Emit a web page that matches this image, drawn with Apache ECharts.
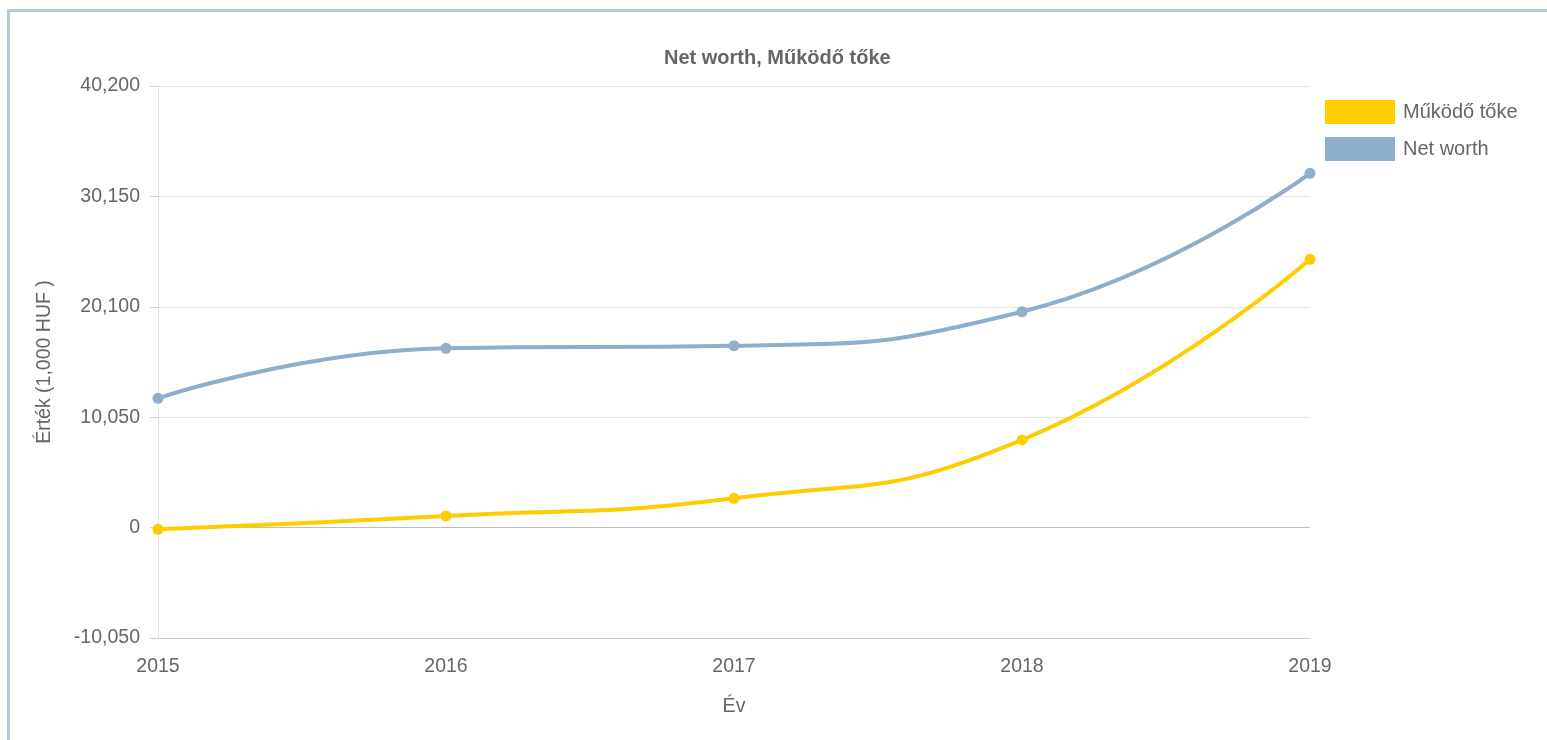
<!DOCTYPE html>
<html>
<head>
<meta charset="utf-8">
<script src="https://cdn.jsdelivr.net/npm/echarts@6/dist/echarts.min.js"></script>
<style>
  html, body { margin: 0; padding: 0; background: #fff; overflow: hidden; }
  #chart { position: absolute; left: 0; top: 0; width: 1547px; height: 740px; }
  .frame {
    position: absolute; left: 7px; top: 9px; width: 1700px; height: 900px;
    border-left: 3px solid #b4cade; border-top: 3px solid #b4cade;
    pointer-events: none;
  }
</style>
</head>
<body>
<div id="chart"></div>
<div class="frame"></div>
<script>
const years = ['2015', '2016', '2017', '2018', '2019']
const netWorth = [11770, 16320, 16560, 19650, 32250]
const mukodoToke = [-160, 1060, 2670, 7980, 24420]
const yMin = -10050
const yMax = 40200
const yStep = 10050

const font = '"Liberation Sans", Arial, sans-serif'
const chart = echarts.init(document.getElementById('chart'))

const option = {
  animation: false,
  textStyle: { fontFamily: font },
  title: {
    text: 'Net worth, Működő tőke',
    left: 659,
    top: 43,
    textStyle: { fontSize: 20, fontWeight: 'bold', color: '#666', fontFamily: font }
  },
  legend: {
    orient: 'vertical',
    left: 1325,
    top: 100,
    padding: 0,
    itemWidth: 70,
    itemHeight: 24,
    itemGap: 13,
    icon: 'rect',
    data: ['Működő tőke', 'Net worth'],
    textStyle: { fontSize: 20, color: '#666', fontFamily: font, padding: [2, 0, 0, 3] }
  },
  grid: { left: 158, right: 237, top: 86, bottom: 102 },
  xAxis: {
    type: 'category',
    data: years,
    boundaryGap: false,
    name: 'Év',
    nameLocation: 'middle',
    nameGap: 59,
    nameTextStyle: { fontSize: 19.5, color: '#666', fontFamily: font },
    axisLine: { onZero: false, lineStyle: { color: '#ccc' } },
    axisTick: { show: false },
    axisLabel: { fontSize: 19.5, color: '#666', margin: 19, fontFamily: font },
    splitLine: { show: false }
  },
  yAxis: {
    type: 'value',
    min: yMin,
    max: yMax,
    interval: yStep,
    name: 'Érték (1,000 HUF )',
    nameLocation: 'middle',
    nameGap: 103,
    nameTextStyle: { fontSize: 19.5, color: '#666', fontFamily: font },
    axisLine: { show: true, lineStyle: { color: '#e3e3e3' } },
    axisTick: { show: true, length: 8, lineStyle: { color: '#ccc' } },
    axisLabel: {
      fontSize: 19.5, color: '#666', margin: 18, fontFamily: font,
      formatter: v => v.toLocaleString('en-US')
    },
    splitLine: {
      lineStyle: { color: ['#ccc', '#bdbdbd', '#e6e6e6', '#e6e6e6', '#e6e6e6', '#e6e6e6'] }
    }
  },
  series: [
    {
      name: 'Működő tőke',
      type: 'line',
      smooth: true,
      data: mukodoToke,
      symbol: 'circle',
      symbolSize: 11,
      lineStyle: { color: '#ffcc00', width: 4 },
      itemStyle: { color: '#ffcc00' }
    },
    {
      name: 'Net worth',
      type: 'line',
      smooth: true,
      data: netWorth,
      symbol: 'circle',
      symbolSize: 11,
      lineStyle: { color: '#8eaecb', width: 4 },
      itemStyle: { color: '#8eaecb' }
    }
  ]
}

chart.setOption(option)
</script>
</body>
</html>
